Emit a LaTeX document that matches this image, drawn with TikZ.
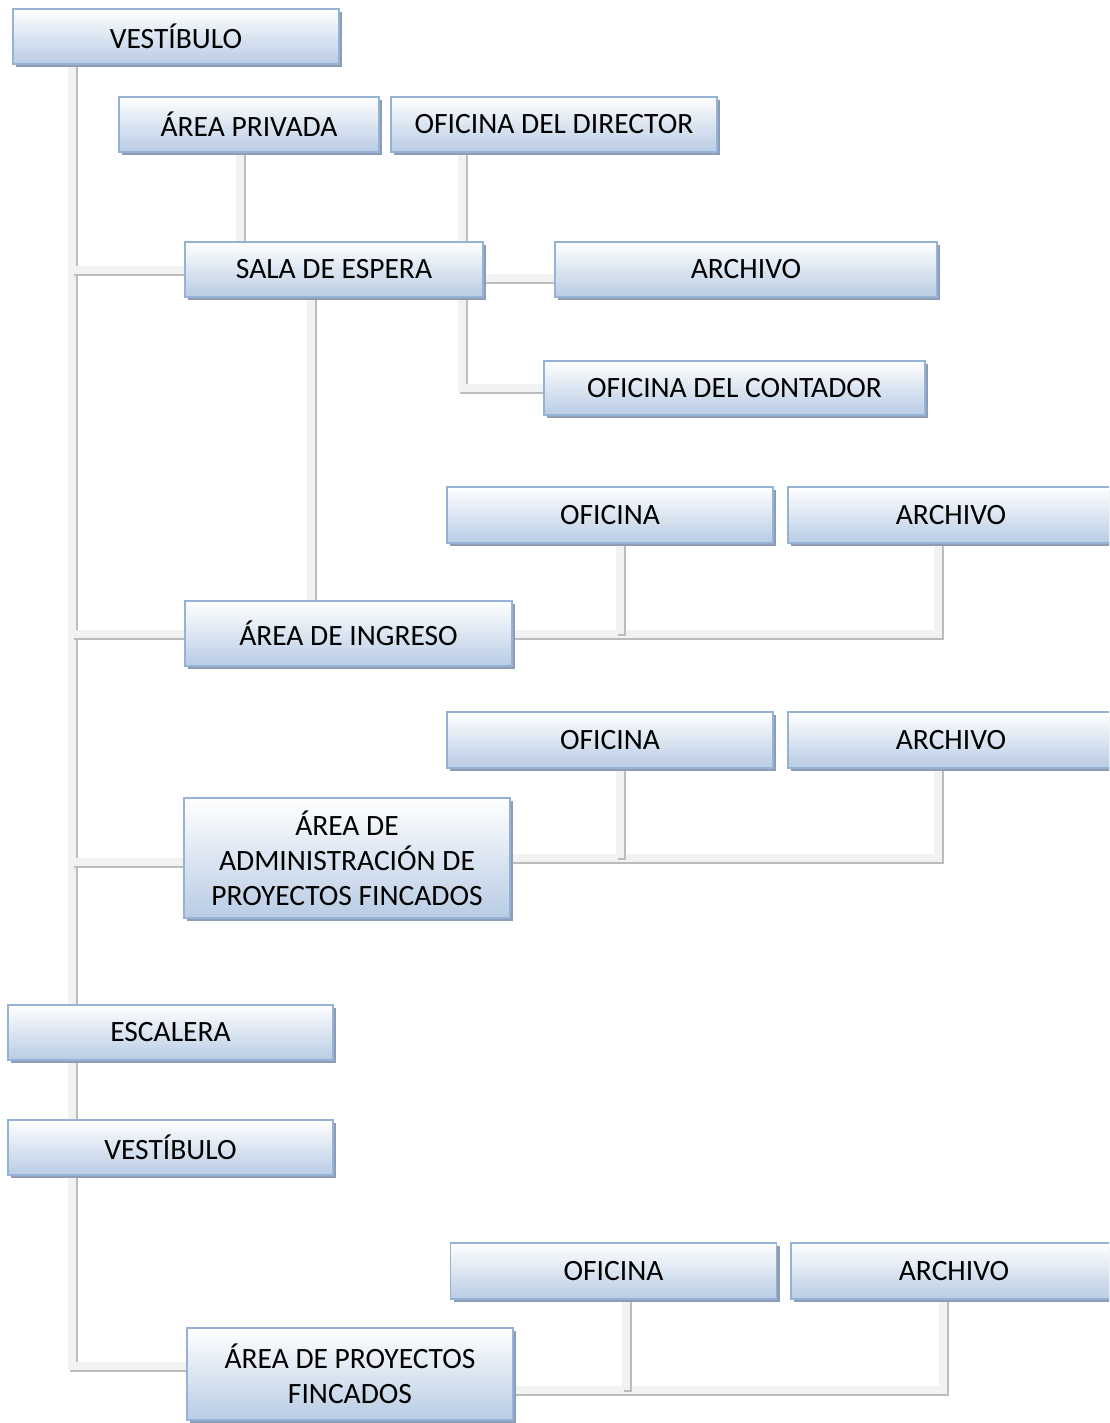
\documentclass[tikz,border=0pt]{standalone}
\usepackage{fontspec}
\setmainfont{Carlito}
\usetikzlibrary{shadows,backgrounds}
\definecolor{bordeazul}{RGB}{149,179,215}
\definecolor{fondoazul}{RGB}{184,204,228}
\definecolor{sombra}{RGB}{142,156,182}
\definecolor{barra}{RGB}{242,242,242}
\definecolor{barrasombra}{RGB}{188,188,188}
\begin{document}
\begin{tikzpicture}[x=1pt, y=-1pt,
		caja/.style={rectangle, draw=bordeazul, line width=1.5pt, top color=white, bottom color=fondoazul,
			minimum width=326, minimum height=55, inner sep=0pt, align=center,
			font=\fontsize{29.5}{35}\selectfont,
			drop shadow={shadow xshift=3pt, shadow yshift=-3pt, fill=sombra, opacity=1}},
		enlace/.style={draw=barra, line width=8pt,
			preaction={draw=barrasombra, line width=8pt, transform canvas={xshift=2pt, yshift=-2pt}}}]
	
	\useasboundingbox (0,0) rectangle (1109,1423);
	\clip (0,0) rectangle (1109,1423);
	
	% --- 1. Vestíbulo y sala de espera ---
	\node[caja] (ves1) at (176,36.5) {VESTÍBULO};
	\node[caja, minimum width=260] (priv) at (249,124.5) {ÁREA PRIVADA};
	\node[caja] (dir) at (554,124.5) {OFICINA DEL DIRECTOR};
	\node[caja, minimum width=298] (sala) at (334,269.5) {SALA DE ESPERA};
	\node[caja, minimum width=382] (arch1) at (746,269.5) {ARCHIVO};
	\node[caja, minimum width=381, minimum height=54] (cont) at (734.5,388) {OFICINA DEL CONTADOR};
	
	% --- 2. Área de ingreso ---
	\node[caja, minimum height=56] (ofi2) at (610,515) {OFICINA};
	\node[caja, minimum height=56] (arch2) at (951,515) {ARCHIVO};
	\node[caja, minimum width=327, minimum height=65] (ingr) at (348.5,633.5) {ÁREA DE INGRESO};
	
	% --- 3. Área de administración ---
	\node[caja, minimum height=56] (ofi3) at (610,740) {OFICINA};
	\node[caja, minimum height=56] (arch3) at (951,740) {ARCHIVO};
	\node[caja, minimum height=120] (admin) at (347,858) {ÁREA DE\\ADMINISTRACIÓN DE\\PROYECTOS FINCADOS};
	
	% --- 4. Escalera y planta alta ---
	\node[caja, minimum width=325] (esc) at (170.5,1032.5) {ESCALERA};
	\node[caja, minimum width=325] (ves2) at (170.5,1147.5) {VESTÍBULO};
	\node[caja, minimum height=56] (ofi4) at (613.5,1271) {OFICINA};
	\node[caja, minimum height=56] (arch4) at (954,1271) {ARCHIVO};
	\node[caja, minimum height=92] (proy) at (350,1374) {ÁREA DE PROYECTOS\\FINCADOS};
	
	% --- 5. Ejes de los enlaces ---
	\coordinate (T) at (72,0);
	\coordinate (jpriv) at (240,0);
	\coordinate (jdir) at (462,0);
	\coordinate (jingr) at (311,0);
	\coordinate (jofi) at (620,0);
	\coordinate (jarch) at (938,0);
	\coordinate (jofi4) at (626,0);
	\coordinate (jarch4) at (943,0);
	\coordinate (pw) at ([yshift=8pt]proy.west);
	\coordinate (pe) at ([yshift=-16pt]proy.east);
	
	% --- 6. Enlaces (detrás de las cajas) ---
	\begin{scope}[on background layer]
		\draw[enlace] (ves1.south -| T) -- (esc.north -| T);
		\draw[enlace] (T |- sala.west) -- (sala.west);
		\draw[enlace] (T |- ingr.west) -- (ingr.west);
		\draw[enlace] ([yshift=-4pt]T |- admin.west) -- ([yshift=-4pt]admin.west);
		
		\draw[enlace] (priv.south -| jpriv) -- (sala.north -| jpriv);
		\draw[enlace] (dir.south -| jdir) -- (sala.north -| jdir);
		\draw[enlace] ([yshift=-8pt]sala.east) -- ([yshift=-8pt]arch1.west);
		\draw[enlace] (sala.south -| jdir) -- (jdir |- cont.west) -- (cont.west);
		\draw[enlace] (sala.south -| jingr) -- (ingr.north -| jingr);
		
		\draw[enlace] (ingr.east) -- (jarch |- ingr.east) -- (arch2.south -| jarch);
		\draw[enlace] (ofi2.south -| jofi) -- (jofi |- ingr.east);
		
		\draw[enlace] (admin.east) -- (jarch |- admin.east) -- (arch3.south -| jarch);
		\draw[enlace] (ofi3.south -| jofi) -- (jofi |- admin.east);
		
		\draw[enlace] (esc.south -| T) -- (ves2.north -| T);
		\draw[enlace] (ves2.south -| T) -- (T |- pw) -- (pw);
		\draw[enlace] (pe) -- (jarch4 |- pe) -- (arch4.south -| jarch4);
		\draw[enlace] (ofi4.south -| jofi4) -- (jofi4 |- pe);
	\end{scope}
	
\end{tikzpicture}
\end{document}
